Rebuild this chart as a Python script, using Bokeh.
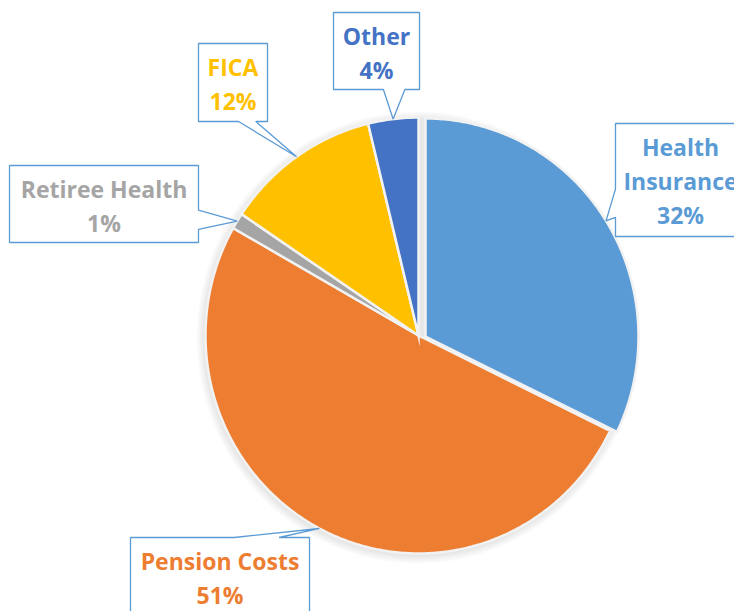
import math
from bokeh.plotting import figure
from bokeh.models import Range1d, ColumnDataSource
from bokeh.embed import file_html
from bokeh.resources import INLINE
from bokeh.core.properties import value

# ---------------- data ----------------
categories = ["Health Insurance", "Pension Costs", "Retiree Health", "FICA", "Other"]
shares = [32.2, 51.0, 1.2, 11.8, 3.8]
label_lines = [["Health", "Insurance"], ["Pension Costs"], ["Retiree Health"], ["FICA"], ["Other"]]
colors = ["#5B9BD5", "#ED7D31", "#A5A5A5", "#FFC000", "#4472C4"]

# ---------------- layout (page pixel coords) ----------------
W, H = 734, 611
CENTER_PX = (418, 335)
RX, RY = 213, 218
explode_px = [(7, 1), (0, 0), (0, 0), (0, 0), (0, 0)]
# callout boxes: left, top, right, bottom
boxes_px = [(615, 123, 745, 236), (130, 537, 309, 615), (9, 165, 198, 242),
            (198, 43, 267, 121), (333, 12, 419, 89)]
BOX_LINE = "#5B9BD5"
FONT = "Open Sans"
FONT_SIZE = "23px"
FIRST_LINE = 23
LINE_GAP = 34


def X(px):
    return px


def Y(py):
    return H - py


p = figure(width=W, height=H, x_range=Range1d(0, W), y_range=Range1d(0, H),
           output_backend="svg", toolbar_location=None,
           x_axis_type=None, y_axis_type=None, min_border=0)
p.outline_line_color = None
p.grid.visible = False
p.background_fill_color = "white"
p.border_fill_color = "white"

cx, cy = X(CENTER_PX[0]), Y(CENTER_PX[1])

# soft shadow around the pie
for k in range(1, 9):
    p.ellipse(x=[cx - 1], y=[cy - 2], width=2 * (RX + k), height=2 * (RY + k),
              fill_color="#808080", fill_alpha=0.028, line_color=None)

total = sum(shares)
cum = 0.0
sx, sy, mids, centers = [], [], [], []
for i, s in enumerate(shares):
    f0 = cum / total
    f1 = (cum + s) / total
    cum += s
    a_start = math.pi / 2 - 2 * math.pi * f1
    a_end = math.pi / 2 - 2 * math.pi * f0
    mid = (a_start + a_end) / 2
    ox = cx + explode_px[i][0]
    oy = cy - explode_px[i][1]
    n = max(4, int(abs(a_end - a_start) * 90))
    px_ = [ox]
    py_ = [oy]
    for k in range(n + 1):
        a = a_start + (a_end - a_start) * k / n
        px_.append(ox + RX * math.cos(a))
        py_.append(oy + RY * math.sin(a))
    sx.append(px_)
    sy.append(py_)
    mids.append(mid)
    centers.append((ox, oy))

src = ColumnDataSource(dict(xs=sx, ys=sy, color=colors, cat=categories))
p.patches(xs="xs", ys="ys", fill_color="color", line_color="#F2F2F2", line_width=2.5,
          line_join="miter", source=src)

# callouts
xs, ys = [], []
tx, ty, tt, tc = [], [], [], []
for i in range(len(categories)):
    tipx = centers[i][0] + RX * math.cos(mids[i])
    tipy = centers[i][1] + RY * math.sin(mids[i])
    l, t, r, b = boxes_px[i]
    l, r = X(l), X(r)
    t, b = Y(t), Y(b)  # t > b in data coords
    w = r - l
    h = t - b
    f1, f2 = 0.58, 0.83
    if tipy > t:  # pointer on top edge
        pts = [(l, t), (l + f1 * w, t), (tipx, tipy), (l + f2 * w, t), (r, t), (r, b), (l, b)]
    elif tipy < b:  # bottom edge
        pts = [(l, t), (r, t), (r, b), (l + f2 * w, b), (tipx, tipy), (l + f1 * w, b), (l, b)]
    elif tipx > r:  # right edge
        pts = [(l, t), (r, t), (r, t - f1 * h), (tipx, tipy), (r, t - f2 * h), (r, b), (l, b)]
    else:  # left edge
        pts = [(l, t), (r, t), (r, b), (l, b), (l, t - f2 * h), (tipx, tipy), (l, t - f1 * h)]
    xs.append([q[0] for q in pts])
    ys.append([q[1] for q in pts])

    lines = label_lines[i] + [f"{round(shares[i] / total * 100)}%"]
    for j, ln in enumerate(lines):
        tx.append((l + r) / 2)
        ty.append(t - FIRST_LINE - j * LINE_GAP)
        tt.append(ln)
        tc.append(colors[i])

p.patches(xs=xs, ys=ys, fill_color="white", line_color=BOX_LINE, line_width=1.3)
p.text(x=tx, y=ty, text=tt, text_color=tc, text_font=value(FONT), text_font_style="bold",
       text_font_size=FONT_SIZE, text_align="center", text_baseline="middle")

open("out.html", "w").write(file_html(p, INLINE))
